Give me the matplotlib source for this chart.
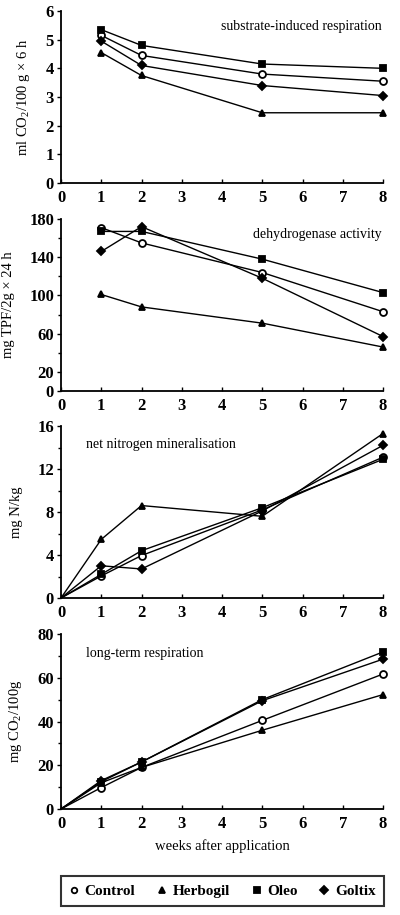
import numpy as np
import matplotlib
matplotlib.use("Agg")
import matplotlib.pyplot as plt
from matplotlib.ticker import MultipleLocator

plt.rcParams['font.family'] = ['Liberation Serif', 'DejaVu Serif']
plt.rcParams['mathtext.fontset'] = 'custom'
plt.rcParams['mathtext.rm'] = 'Liberation Serif'

weeks = [1, 2, 5, 8]
weeks0 = [0, 1, 2, 5, 8]

treatments = ["Control", "Herbogil", "Oleo", "Goltix"]
markers = {"Control": "o", "Herbogil": "^", "Oleo": "s", "Goltix": "D"}

# substrate-induced respiration
sir_control = [5.15, 4.45, 3.8, 3.55]
sir_herbogil = [4.55, 3.75, 2.45, 2.45]
sir_oleo = [5.35, 4.8, 4.15, 4.0]
sir_goltix = [4.95, 4.1, 3.4, 3.05]

# dehydrogenase activity
dha_control = [171, 155, 124, 83]
dha_herbogil = [101, 88, 71, 46]
dha_oleo = [167, 167, 138, 103]
dha_goltix = [146, 172, 118, 57]

# net nitrogen mineralisation
nmin_control = [0, 2.05, 3.95, 8.2, 13.1]
nmin_herbogil = [0, 5.45, 8.6, 7.6, 15.3]
nmin_oleo = [0, 2.2, 4.4, 8.4, 12.9]
nmin_goltix = [0, 3.0, 2.7, 8.1, 14.2]

# long-term respiration
ltr_control = [0, 9.8, 19, 40.5, 61.7]
ltr_herbogil = [0, 12, 19, 36, 52.3]
ltr_oleo = [0, 12.5, 21.5, 50, 71.8]
ltr_goltix = [0, 13, 21.5, 49.5, 68.5]

fig = plt.figure(figsize=(4, 9.15), dpi=100)

left, width = 61 / 400, 322 / 400
panels = [
    (183, 172, weeks, [sir_control, sir_herbogil, sir_oleo, sir_goltix],
     (0, 6), 1, None, "ml CO$_2$/100 g \u00d7 6 h",
     "substrate-induced respiration", "right"),
    (391, 172, weeks, [dha_control, dha_herbogil, dha_oleo, dha_goltix],
     (0, 180), None, 20, "mg TPF/2g \u00d7 24 h",
     "dehydrogenase activity", "right"),
    (598, 172, weeks0, [nmin_control, nmin_herbogil, nmin_oleo, nmin_goltix],
     (0, 16), 4, 2, "mg N/kg",
     "net nitrogen mineralisation", "left"),
    (809, 175, weeks0, [ltr_control, ltr_herbogil, ltr_oleo, ltr_goltix],
     (0, 80), 20, 10, "mg CO$_2$/100g",
     "long-term respiration", "left"),
]

handles = []
for i, (bot, h, xs, series, ylim, major, minor, ylabel, title, ha) in enumerate(panels):
    ax = fig.add_axes([left, 1 - bot / 915, width, h / 915])
    # no marker on the origin point
    mk_idx = list(range(1, len(xs))) if xs[0] == 0 else list(range(len(xs)))
    for name, ys in zip(treatments, series):
        ms = 4.5 if markers[name] == "D" else 5
        ln, = ax.plot(xs, ys, color="black", lw=1, marker=markers[name],
                      markersize=ms, markevery=mk_idx,
                      markerfacecolor="white" if name == "Control" else "black",
                      markeredgecolor="black", markeredgewidth=1.3, clip_on=False, label=name)
        if i == 0:
            handles.append(ln)
    ax.set_xlim(0, 8)
    ax.set_ylim(*ylim)
    ax.xaxis.set_major_locator(MultipleLocator(1))
    if major is not None:
        ax.yaxis.set_major_locator(MultipleLocator(major))
    else:
        ax.set_yticks([0, 20, 60, 100, 140, 180])
    if minor is not None:
        ax.yaxis.set_minor_locator(MultipleLocator(minor))
    ax.spines['top'].set_visible(False)
    ax.spines['right'].set_visible(False)
    ax.spines['left'].set_linewidth(1.3)
    ax.spines['bottom'].set_linewidth(1.3)
    ax.tick_params(axis='x', direction='in', length=3, width=1, pad=5, labelsize=12)
    ax.tick_params(axis='y', direction='out', length=3, width=1, labelsize=12, pad=2)
    ax.tick_params(axis='y', which='minor', direction='out', length=2.5, width=1)
    for lab in ax.get_xticklabels() + ax.get_yticklabels():
        lab.set_fontweight('bold')
    ax.set_ylabel(ylabel, fontsize=10.5, labelpad=10)
    if ha == "right":
        ax.text(0.995, 0.91, title, transform=ax.transAxes, ha="right", va="center", fontsize=10)
    else:
        ax.text(0.078, 0.89, title, transform=ax.transAxes, ha="left", va="center", fontsize=10)
    if i == 3:
        ax.set_xlabel("weeks after application", fontsize=10.5, labelpad=5)

leg = fig.legend(handles, treatments, loc="center", ncol=4, mode="expand",
                 bbox_to_anchor=(left, 1 - 906 / 915, width + 0.003, 30 / 915),
                 frameon=True, fancybox=False, handlelength=0.6, handletextpad=0.4,
                 borderpad=0.55, borderaxespad=0, prop={'weight': 'bold', 'size': 11})
for lh in leg.legend_handles:
    lh.set_linestyle("none")
    lh.set_markersize(4)
leg.get_frame().set_edgecolor("black")
leg.get_frame().set_linewidth(1.5)

fig.savefig("out.png", dpi=100)
